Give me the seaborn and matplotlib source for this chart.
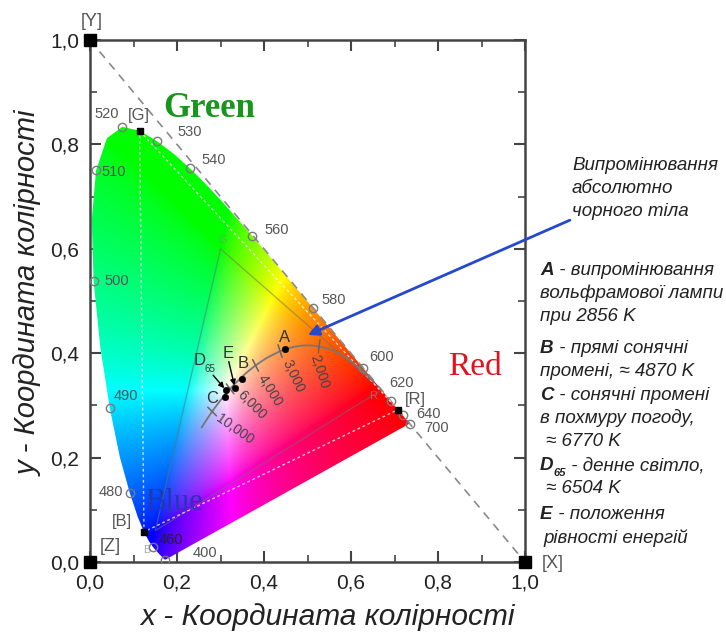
import numpy as np
import matplotlib
matplotlib.use("Agg")
import matplotlib.pyplot as plt
import seaborn as sns
from matplotlib.patches import Polygon
from matplotlib.ticker import MultipleLocator, FuncFormatter

# CIE 1931 spectral locus (nm, x, y)
wl = [380, 385, 390, 395, 400, 405, 410, 415, 420, 425, 430, 435, 440, 445, 450,
      455, 460, 465, 470, 475, 480, 485, 490, 495, 500, 505, 510, 515, 520, 525,
      530, 535, 540, 545, 550, 555, 560, 565, 570, 575, 580, 585, 590, 595, 600,
      605, 610, 615, 620, 625, 630, 635, 640, 645, 650, 655, 660, 665, 670, 675,
      680, 685, 690, 695, 700]
loc_x = [0.1741, 0.1740, 0.1738, 0.1736, 0.1733, 0.1730, 0.1726, 0.1721, 0.1714, 0.1703,
         0.1689, 0.1669, 0.1644, 0.1611, 0.1566, 0.1510, 0.1440, 0.1355, 0.1241, 0.1096,
         0.0913, 0.0687, 0.0454, 0.0235, 0.0082, 0.0039, 0.0139, 0.0389, 0.0743, 0.1142,
         0.1547, 0.1929, 0.2296, 0.2658, 0.3016, 0.3373, 0.3731, 0.4087, 0.4441, 0.4788,
         0.5125, 0.5448, 0.5752, 0.6029, 0.6270, 0.6482, 0.6658, 0.6801, 0.6915, 0.7006,
         0.7079, 0.7140, 0.7190, 0.7230, 0.7260, 0.7283, 0.7300, 0.7311, 0.7320, 0.7327,
         0.7334, 0.7340, 0.7344, 0.7346, 0.7347]
loc_y = [0.0050, 0.0050, 0.0049, 0.0049, 0.0048, 0.0048, 0.0048, 0.0048, 0.0051, 0.0058,
         0.0069, 0.0086, 0.0109, 0.0138, 0.0177, 0.0227, 0.0297, 0.0399, 0.0578, 0.0868,
         0.1327, 0.2007, 0.2950, 0.4127, 0.5384, 0.6548, 0.7502, 0.8120, 0.8338, 0.8262,
         0.8059, 0.7816, 0.7543, 0.7243, 0.6923, 0.6589, 0.6245, 0.5896, 0.5547, 0.5202,
         0.4866, 0.4544, 0.4242, 0.3965, 0.3725, 0.3514, 0.3340, 0.3197, 0.3083, 0.2993,
         0.2920, 0.2859, 0.2809, 0.2770, 0.2740, 0.2717, 0.2700, 0.2689, 0.2680, 0.2673,
         0.2666, 0.2660, 0.2656, 0.2654, 0.2653]

# marked wavelengths and where their labels sit
marked_nm = [400, 460, 480, 490, 500, 510, 520, 530, 540, 560, 580, 600, 620, 640, 700]
mark_lx = [0.264, 0.186, 0.048, 0.083, 0.062, 0.055, 0.039, 0.230, 0.285, 0.428,
           0.561, 0.671, 0.717, 0.779, 0.797]
mark_ly = [0.017, 0.042, 0.134, 0.318, 0.538, 0.747, 0.858, 0.824, 0.770, 0.636,
           0.502, 0.393, 0.344, 0.284, 0.256]

# Planckian locus
planck_T = [1000, 1200, 1400, 1600, 1800, 2000, 2200, 2400, 2600, 2800, 3000, 3500,
            4000, 4500, 5000, 5500, 6000, 6500, 7000, 8000, 9000, 10000, 12000, 15000, 20000]
planck_x = [0.6528, 0.6251, 0.5985, 0.5732, 0.5493, 0.5267, 0.5056, 0.4862, 0.4685, 0.4525,
            0.4369, 0.4053, 0.3805, 0.3608, 0.3451, 0.3325, 0.3221, 0.3135, 0.3064, 0.2952,
            0.2869, 0.2807, 0.2719, 0.2637, 0.2565]
planck_y = [0.3444, 0.3674, 0.3858, 0.3993, 0.4082, 0.4133, 0.4152, 0.4147, 0.4123, 0.4087,
            0.4041, 0.3907, 0.3768, 0.3636, 0.3516, 0.3411, 0.3318, 0.3236, 0.3166, 0.3048,
            0.2956, 0.2884, 0.2776, 0.2673, 0.2577]
planck_ticks = [2000, 3000, 4000, 6000, 10000]
planck_labels = ["2,000", "3,000", "4,000", "6,000", "10,000"]
planck_lx = [0.514, 0.449, 0.393, 0.344, 0.294]
planck_ly = [0.397, 0.387, 0.356, 0.324, 0.278]
planck_rot = [-72, -65, -58, -45, -35]

# standard illuminants
ill_x = [0.4476, 0.3484, 0.3101, 0.3127, 0.3333]
ill_y = [0.4074, 0.3516, 0.3162, 0.3290, 0.3333]

# primaries of the system
prim_names = ["[G]", "[R]", "[B]"]
prim_x = [0.114, 0.708, 0.124]
prim_y = [0.826, 0.292, 0.058]
prim_lx = [0.113, 0.749, 0.074]
prim_ly = [0.856, 0.312, 0.077]

corner_names = ["[Y]", "[X]", "[Z]"]
corner_x = [0.0, 1.0, 0.0]
corner_y = [1.0, 0.0, 0.0]
corner_lx = [0.005, 1.064, 0.046]
corner_ly = [1.036, -0.002, 0.029]

srgb_x = [0.30, 0.67, 0.15]
srgb_y = [0.60, 0.33, 0.06]

sns.set_style("ticks")
plt.rcParams["font.family"] = ["Liberation Sans", "DejaVu Sans"]

fig = plt.figure(figsize=(7.26, 6.38), dpi=100)
ax = fig.add_axes([0.124, 0.119, 0.5992, 0.8182])

# colour fill of the gamut
gx = np.linspace(0, 0.75, 750)
gy = np.linspace(0, 0.85, 850)
GX, GY = np.meshgrid(gx, gy)
xyz = np.stack([GX, GY, 1 - GX - GY], axis=-1)
M = np.array([[3.2406, -1.5372, -0.4986],
              [-0.9689, 1.8758, 0.0415],
              [0.0557, -0.2040, 1.0570]])
rgb = np.clip(xyz @ M.T, 0, None)
rgb = rgb / (rgb.max(axis=-1, keepdims=True) + 1e-9)
rgb = np.clip(rgb, 0, 1) ** (1 / 1.5)
poly = Polygon(np.column_stack([loc_x, loc_y]), closed=True, facecolor="none",
               edgecolor="none", transform=ax.transData)
ax.add_patch(poly)
im = ax.imshow(rgb, origin="lower", extent=[0, 0.75, 0, 0.85], aspect="auto",
               interpolation="bilinear", zorder=1)
im.set_clip_path(poly)

# diagonal X-Y
ax.plot([corner_x[0], corner_x[1]], [corner_y[0], corner_y[1]], color="#8a8a8a",
        ls=(0, (5, 4)), lw=1.2, zorder=2)

# faint device triangle
ax.fill(srgb_x, srgb_y, facecolor="none", edgecolor="#707070", lw=0.9, alpha=0.55, zorder=2)
for lab, px, py in zip(["G", "R", "B"], [0.306, 0.650, 0.131], [0.617, 0.318, 0.023]):
    ax.text(px, py, lab, color="#8a8a8a", fontsize=8, ha="center", va="center", alpha=0.7, zorder=3)

# primaries triangle (dotted)
tri_x = prim_x + [prim_x[0]]
tri_y = prim_y + [prim_y[0]]
ax.plot(tri_x, tri_y, color="white", ls=(0, (2, 2)), lw=1.0, alpha=0.75, zorder=2)
ax.plot(prim_x, prim_y, "s", color="black", ms=5, zorder=5)
for lab, lx, ly in zip(prim_names, prim_lx, prim_ly):
    ax.text(lx, ly, lab, color="#555555", fontsize=12, ha="center", va="center", zorder=5)

# corners
ax.plot(corner_x, corner_y, "s", color="black", ms=8, clip_on=False, zorder=6)
for lab, lx, ly in zip(corner_names, corner_lx, corner_ly):
    ax.text(lx, ly, lab, color="#555555", fontsize=13, ha="center", va="center",
            clip_on=False, zorder=6)

# wavelength markers
sel = [wl.index(n) for n in marked_nm]
ax.plot([loc_x[i] for i in sel], [loc_y[i] for i in sel], "o", mfc="none", mec="#7a7a7a",
        mew=1.0, ms=6, zorder=4)
for n, lx, ly in zip(marked_nm, mark_lx, mark_ly):
    ax.text(lx, ly, str(n), fontsize=10.5, color="#222222" if n == 460 else "#555555",
            ha="center", va="center", zorder=5)

# Planckian locus
sns.lineplot(x=planck_x, y=planck_y, sort=False, estimator=None, color="#777777",
             lw=1.3, ax=ax, zorder=3)
px_arr = np.array(planck_x)
py_arr = np.array(planck_y)
for T, lab, lx, ly, rot in zip(planck_ticks, planck_labels, planck_lx, planck_ly, planck_rot):
    i = planck_T.index(T)
    tx = px_arr[i + 1] - px_arr[i - 1]
    ty = py_arr[i + 1] - py_arr[i - 1]
    nn = np.hypot(tx, ty)
    nx, ny = -ty / nn * 0.013, tx / nn * 0.013
    ax.plot([px_arr[i] - nx, px_arr[i] + nx], [py_arr[i] - ny, py_arr[i] + ny],
            color="#666666", lw=1.1, zorder=3)
    ax.text(lx, ly, lab, fontsize=10, color="#444444", rotation=rot, rotation_mode="anchor",
            ha="left", va="center", zorder=5)

# illuminants
sns.scatterplot(x=ill_x, y=ill_y, color="black", s=22, edgecolor="black", ax=ax, zorder=6)
lab_kw = dict(fontsize=12, color="#333333", ha="center", va="center", zorder=6)
ax.text(0.446, 0.431, "A", **lab_kw)
ax.text(0.352, 0.381, "B", **lab_kw)
ax.text(0.280, 0.314, "C", **lab_kw)
ax.text(0.317, 0.400, "E", **lab_kw)
ax.text(0.253, 0.387, "D", **lab_kw)
ax.text(0.276, 0.369, "65", fontsize=7, color="#333333", ha="center", va="center", zorder=6)
arrow_kw = dict(arrowstyle="-|>", color="black", lw=1.0, mutation_scale=8, shrinkA=0, shrinkB=2)
ax.annotate("", xy=(ill_x[3], ill_y[3]), xytext=(0.283, 0.358), arrowprops=arrow_kw, zorder=6)
ax.annotate("", xy=(ill_x[4], ill_y[4]), xytext=(0.319, 0.384), arrowprops=arrow_kw, zorder=6)

# colour names
ax.text(0.168, 0.852, "Green", family="Liberation Serif", fontweight="bold", fontsize=25,
        color="#16961a", ha="left", va="baseline", zorder=5)
ax.text(0.823, 0.358, "Red", family="Liberation Serif", fontsize=24, color="#e3121c",
        ha="left", va="baseline", clip_on=False, zorder=5)
ax.text(0.126, 0.0996, "Blue", family="Liberation Serif", fontsize=22, color="#2238b0",
        ha="left", va="baseline", zorder=5)

# blue arrow to the black-body curve
ax.annotate("", xy=(0.501, 0.435), xytext=(1.103, 0.655), annotation_clip=False,
            arrowprops=dict(arrowstyle="-|>", color="#2448d0", lw=2.0, mutation_scale=16,
                            shrinkA=0, shrinkB=0), zorder=7)

# notes on the right
def ypx(p):
    return (562 - p) / 522

FS = 13.5
note_kw = dict(fontsize=FS, style="italic", color="#222222", ha="left", va="bottom",
               clip_on=False)
x1 = (572 - 90) / 435
for p, s in zip([164, 187, 210], ["Випромінювання", "абсолютно", "чорного тіла"]):
    ax.text(x1, ypx(p + 10), s, **note_kw)

x0 = (540 - 90) / 435
dx = 4 / 435

def note(head, lines, centers, indents, sub=None):
    h = ax.text(x0, ypx(centers[0] + 10), head, fontweight="bold", **note_kw)
    off = 0
    if sub is not None:
        ax.annotate(sub, xy=(1, 0), xycoords=h, xytext=(0, -3), textcoords="offset points",
                    fontsize=8, fontweight="bold", style="italic", color="#222222",
                    ha="left", va="bottom", annotation_clip=False)
        off = 9
    ax.annotate(lines[0], xy=(1, 0), xycoords=h, xytext=(off, 0), textcoords="offset points",
                fontsize=FS, style="italic", color="#222222", ha="left", va="bottom",
                annotation_clip=False)
    for s, p, ind in zip(lines[1:], centers[1:], indents[1:]):
        ax.text(x0 + ind * dx, ypx(p + 10), s, **note_kw)

note("A", [" - випромінювання", "вольфрамової лампи", "при 2856 K"], [269, 292, 315], [0, 0, 0])
note("B", [" - прямі сонячні", "промені, ≈ 4870 K"], [347, 370], [0, 0])
note("C", [" - сонячні промені", "в похмуру погоду,", "≈ 6770 K"], [394, 417, 440], [0, 0, 1.5])
note("D", [" - денне світло,", "≈ 6504 K"], [464, 487], [0, 1.5], sub="65")
note("E", [" - положення", "рівності енергій"], [513, 537], [0.8, 0.8])

# axes styling
ax.set_xlim(0, 1)
ax.set_ylim(0, 1)
ax.xaxis.set_major_locator(MultipleLocator(0.2))
ax.xaxis.set_minor_locator(MultipleLocator(0.1))
ax.yaxis.set_major_locator(MultipleLocator(0.2))
ax.yaxis.set_minor_locator(MultipleLocator(0.1))
fmt = FuncFormatter(lambda v, pos: f"{v:.1f}".replace(".", ","))
ax.xaxis.set_major_formatter(fmt)
ax.yaxis.set_major_formatter(fmt)
ax.tick_params(which="both", direction="in", top=True, right=True, color="#444444")
ax.tick_params(which="major", length=8, width=1.5, labelsize=15, labelcolor="#222222", pad=8)
ax.tick_params(which="minor", length=5, width=1.2)
for sp in ax.spines.values():
    sp.set_visible(True)
    sp.set_color("#444444")
    sp.set_linewidth(1.8)

ax.set_xlabel("x - Координата колірності", fontsize=21.5, style="italic", color="#222222")
ax.set_ylabel("y - Координата колірності", fontsize=21, style="italic", color="#222222")
ax.xaxis.set_label_coords(0.545, -0.0785)
ax.yaxis.set_label_coords(-0.11, 0.515)

fig.savefig("out.png", dpi=100)
